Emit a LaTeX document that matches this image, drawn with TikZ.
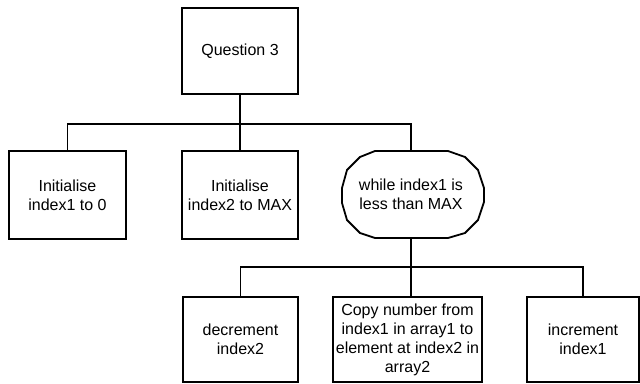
\documentclass[tikz,border=0pt]{standalone}
\usepackage{fontspec}
\setmainfont{Liberation Sans}
\begin{document}
\begin{tikzpicture}[x=1pt,y=-1pt,
  line width=1.8pt, line join=miter,
  every node/.style={font=\fontsize{16}{19}\selectfont, align=center, inner sep=0pt},
  box/.style={draw, minimum width=#1, minimum height=86pt},
  box/.default=116pt]
\useasboundingbox (0,0) rectangle (640,383);
% top level
\node[box] (q) at (240,51) {Question 3};
\node[box=117pt, minimum height=88pt] (i1) at (67.5,195) {Initialise\\index1 to 0};
\node[box, minimum height=88pt] (i2) at (240,195) {Initialise\\index2 to MAX};
\node[minimum width=142pt, minimum height=87pt] (w) at (411,194.5) {while index1 is\\less than MAX};
\draw (375,151) -- (448,151) -- (465,157) -- (478,170) -- (484,188) -- (484,202)
  -- (478,220) -- (465,233) -- (448,238) -- (375,238) -- (360,233) -- (347,220)
  -- (342,203) -- (342,188) -- (347,170) -- (360,157) -- cycle;
% bottom level
\node[box=115pt, minimum height=85pt] (d) at (240.5,339.5) {decrement\\index2};
\node[box=149pt, minimum height=85pt] (c) at (407.5,339.5) {Copy number from\\index1 in array1 to\\element at index2 in\\array2};
\node[box=112pt, minimum height=85pt] (n) at (583,339.5) {increment\\index1};
% connectors
\coordinate (b1) at (240,124);
\draw (q.south) -- (b1);
\draw (i1.north) |- (b1) -| (w.north);
\draw (b1) -- (i2.north);
\coordinate (b2) at (411,267);
\draw (w.south) -- (b2);
\draw (d.north) |- (b2) -| (n.north);
\draw (b2) -- (b2 |- c.north);
\end{tikzpicture}
\end{document}
